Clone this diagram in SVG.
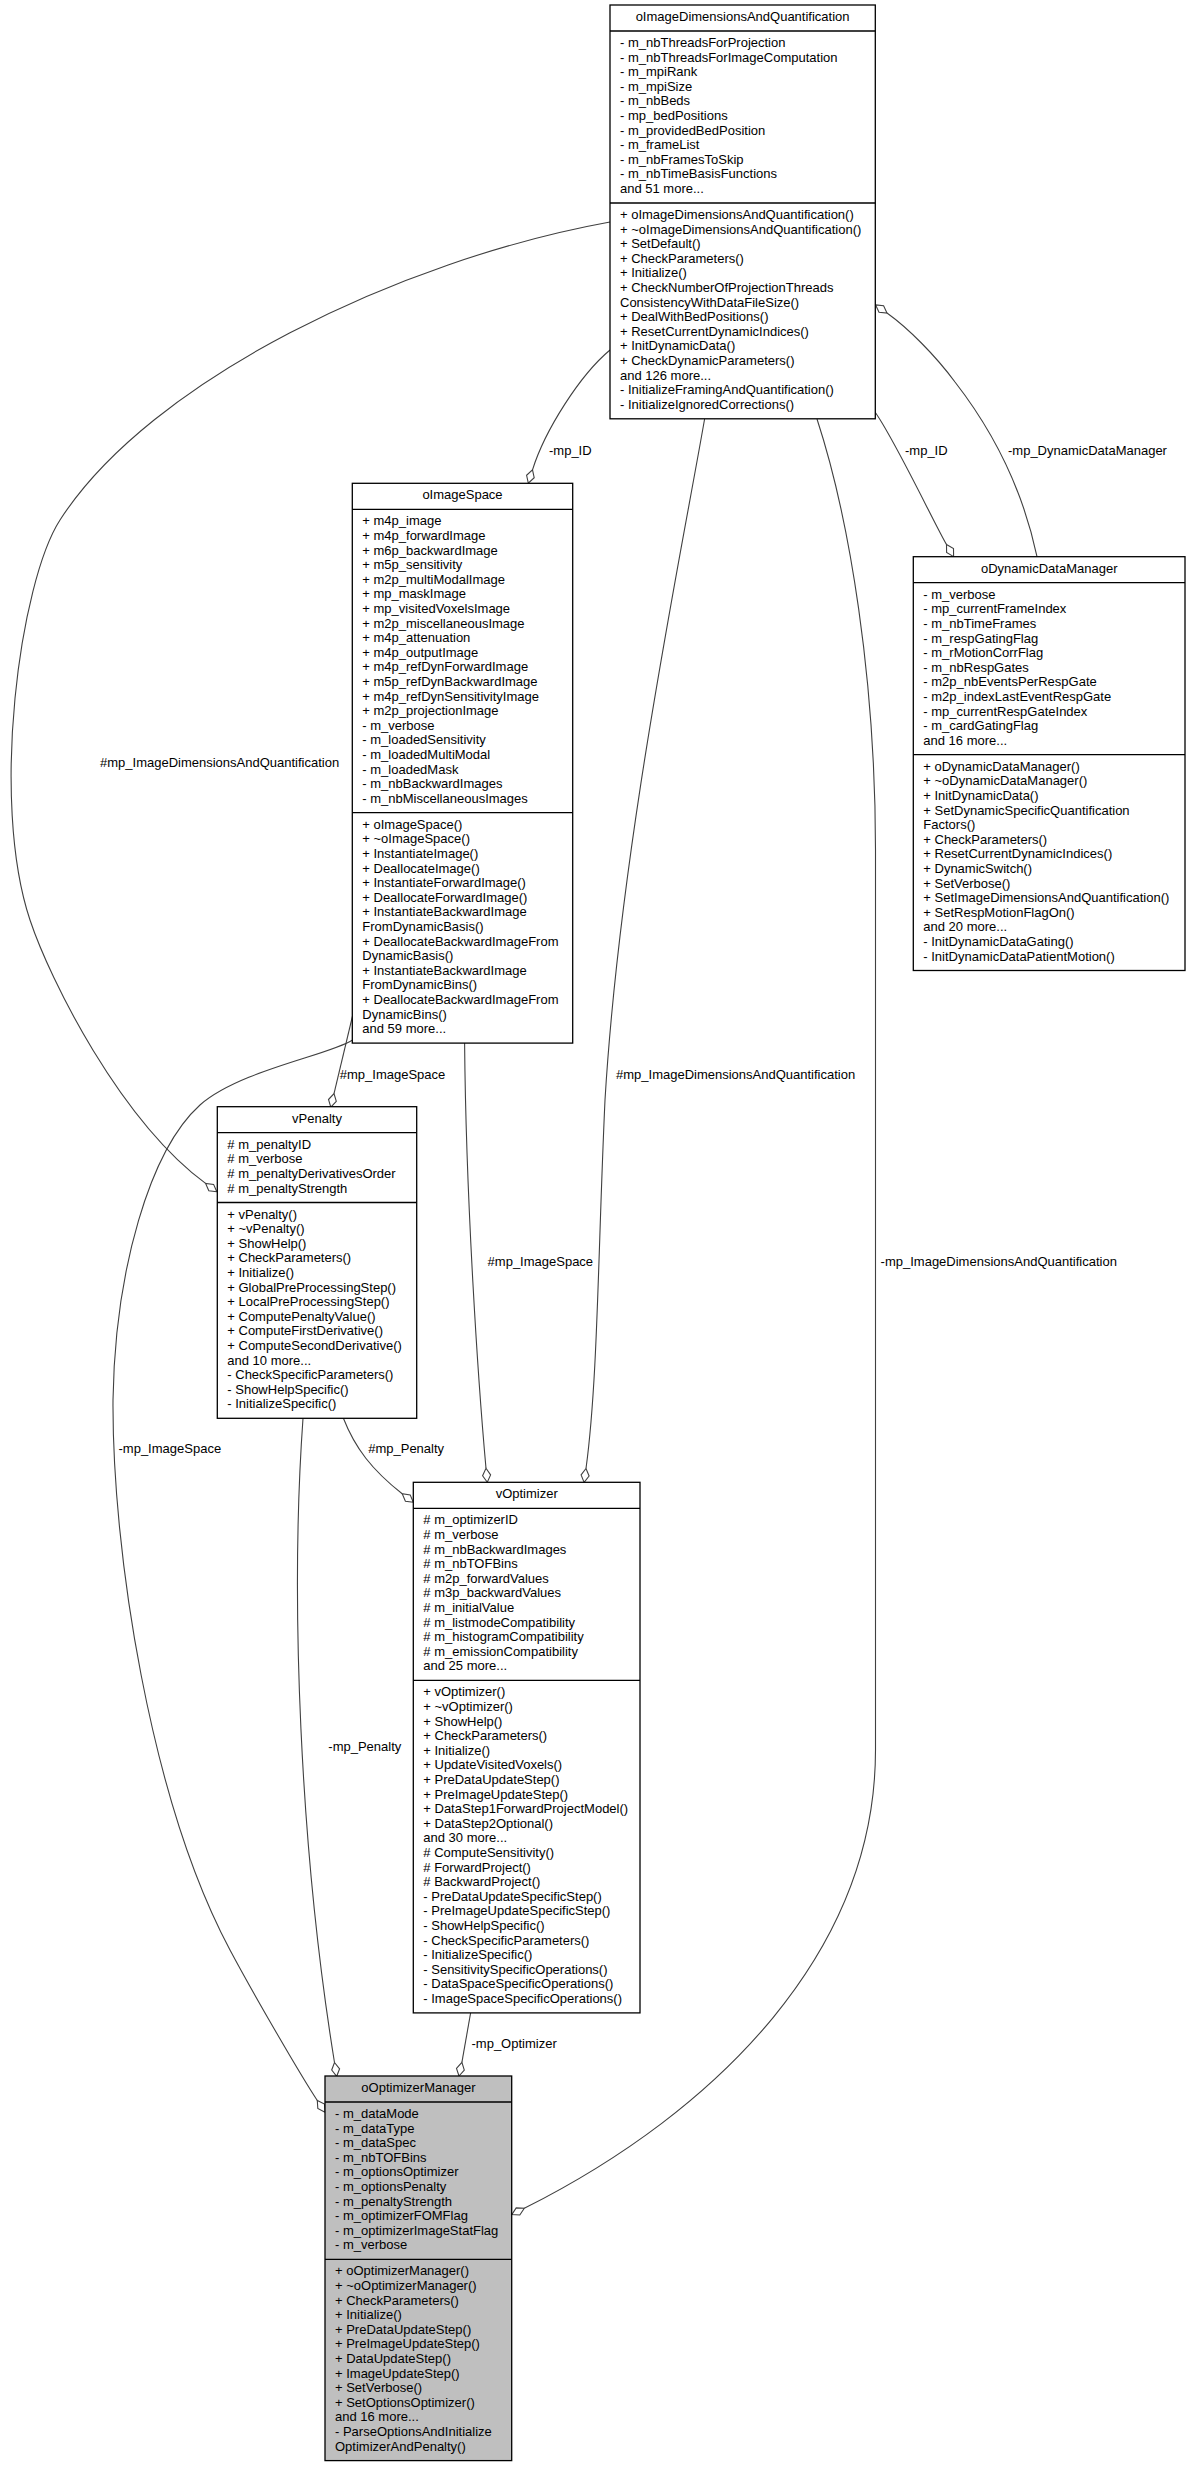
<svg xmlns="http://www.w3.org/2000/svg" width="1190" height="2467" viewBox="0 0 1190 2467">
<style>
text{font-family:"Liberation Sans",Arial,Helvetica,sans-serif;font-size:13px;fill:#000}
.t{text-anchor:middle}
.box{fill:#fff;stroke:#000;stroke-width:1.3}
.gray{fill:#bfbfbf}
.sep{stroke:#000;stroke-width:1.3}
.edge{fill:none;stroke:#404040;stroke-width:1.1}
.dia{fill:#fff;stroke:#404040;stroke-width:1.1}
</style>
<rect width="1190" height="2467" fill="#fff"/>
<g id="connectors">
<path class="edge" d="M610,222 C400,260 150,380 60,520 C20,582 -10,800 30,920 C50,980 120,1120 205.6,1183.4"/>
<polygon class="dia" points="216.8,1191.7 208.8,1190.8 205.6,1183.4 213.6,1184.4"/>
<text x="100" y="767">#mp_ImageDimensionsAndQuantification</text>
<path class="edge" d="M610,350 C580,375 545,430 532.5,469.8"/>
<polygon class="dia" points="528.3,483.2 526.6,475.3 532.5,469.8 534.2,477.7"/>
<text x="549" y="455">-mp_ID</text>
<path class="edge" d="M875,412 C895,440 936,527 946.5,544.5"/>
<polygon class="dia" points="953.6,556.6 946.6,552.5 946.5,544.5 953.5,548.5"/>
<text x="905" y="455">-mp_ID</text>
<path class="edge" d="M1037,556.7 C1025,500 1000,440 955,382 C935,355 908,328 887,313"/>
<polygon class="dia" points="875.6,304.9 883.6,305.7 887,313 879,312.2"/>
<text x="1008" y="455">-mp_DynamicDataManager</text>
<path class="edge" d="M704.6,419 C680,560 620,850 605,1100 C598,1250 598,1380 586,1468.5"/>
<polygon class="dia" points="584.1,1482.4 581.1,1474.9 586,1468.5 589.1,1476"/>
<text x="616" y="1078.5">#mp_ImageDimensionsAndQuantification</text>
<path class="edge" d="M817,419 C850,520 875.5,680 875.5,850 L875.5,1750 C875.5,1950 720,2110 524.3,2208.3"/>
<polygon class="dia" points="511.8,2214.6 516.2,2207.9 524.3,2208.3 519.8,2215"/>
<text x="880.6" y="1266">-mp_ImageDimensionsAndQuantification</text>
<path class="edge" d="M352.5,1016 L334,1093.6"/>
<polygon class="dia" points="330.8,1107.2 328.5,1099.5 334,1093.6 336.3,1101.3"/>
<text x="339.8" y="1078.5">#mp_ImageSpace</text>
<path class="edge" d="M464.6,1043.1 C466,1200 478,1380 486,1468.3"/>
<polygon class="dia" points="487.3,1482.2 482.6,1475.7 486,1468.3 490.6,1474.9"/>
<text x="487.6" y="1266">#mp_ImageSpace</text>
<path class="edge" d="M352.6,1040 C330,1055 240,1070 200,1105 C150,1150 115,1270 113,1400 C112,1550 150,1800 230,1950 C254,1995 300.8,2075.5 317.3,2100.5"/>
<polygon class="dia" points="325,2112.2 317.8,2108.5 317.3,2100.5 324.5,2104.1"/>
<text x="118.5" y="1452.5">-mp_ImageSpace</text>
<path class="edge" d="M343.4,1418.3 C355,1448 372,1470 402.2,1493.8"/>
<polygon class="dia" points="413.3,1502.3 405.4,1501.3 402.2,1493.8 410.2,1494.9"/>
<text x="368.2" y="1452.5">#mp_Penalty</text>
<path class="edge" d="M303,1418.3 C290,1600 300,1850 334.5,2062.5"/>
<polygon class="dia" points="336.7,2076.3 331.7,2070 334.5,2062.5 339.6,2068.8"/>
<text x="328.3" y="1750.5">-mp_Penalty</text>
<path class="edge" d="M470.6,2013 L461.9,2062.3"/>
<polygon class="dia" points="459,2076 456.5,2068.3 461.9,2062.3 464.3,2070"/>
<text x="471.5" y="2047.5">-mp_Optimizer</text>
</g>
<g id="node_oImageDimensionsAndQuantification">
<rect class="box" x="610" y="5" width="265.3" height="413.8"/>
<text class="t" x="742.6" y="21">oImageDimensionsAndQuantification</text>
<line class="sep" x1="610" y1="31" x2="875.3" y2="31"/>
<text x="620" y="47"><tspan x="620" dy="0">- m_nbThreadsForProjection</tspan><tspan x="620" dy="14.6">- m_nbThreadsForImageComputation</tspan><tspan x="620" dy="14.6">- m_mpiRank</tspan><tspan x="620" dy="14.6">- m_mpiSize</tspan><tspan x="620" dy="14.6">- m_nbBeds</tspan><tspan x="620" dy="14.6">- mp_bedPositions</tspan><tspan x="620" dy="14.6">- m_providedBedPosition</tspan><tspan x="620" dy="14.6">- m_frameList</tspan><tspan x="620" dy="14.6">- m_nbFramesToSkip</tspan><tspan x="620" dy="14.6">- m_nbTimeBasisFunctions</tspan><tspan x="620" dy="14.6">and 51 more...</tspan></text>
<line class="sep" x1="610" y1="203" x2="875.3" y2="203"/>
<text x="620" y="219"><tspan x="620" dy="0">+ oImageDimensionsAndQuantification()</tspan><tspan x="620" dy="14.6">+ ~oImageDimensionsAndQuantification()</tspan><tspan x="620" dy="14.6">+ SetDefault()</tspan><tspan x="620" dy="14.6">+ CheckParameters()</tspan><tspan x="620" dy="14.6">+ Initialize()</tspan><tspan x="620" dy="14.6">+ CheckNumberOfProjectionThreads</tspan><tspan x="620" dy="14.6">ConsistencyWithDataFileSize()</tspan><tspan x="620" dy="14.6">+ DealWithBedPositions()</tspan><tspan x="620" dy="14.6">+ ResetCurrentDynamicIndices()</tspan><tspan x="620" dy="14.6">+ InitDynamicData()</tspan><tspan x="620" dy="14.6">+ CheckDynamicParameters()</tspan><tspan x="620" dy="14.6">and 126 more...</tspan><tspan x="620" dy="14.6">- InitializeFramingAndQuantification()</tspan><tspan x="620" dy="14.6">- InitializeIgnoredCorrections()</tspan></text>
</g>
<g id="node_oImageSpace">
<rect class="box" x="352.3" y="483.3" width="220.4" height="559.8"/>
<text class="t" x="462.5" y="499.3">oImageSpace</text>
<line class="sep" x1="352.3" y1="509.3" x2="572.7" y2="509.3"/>
<text x="362.3" y="525.3"><tspan x="362.3" dy="0">+ m4p_image</tspan><tspan x="362.3" dy="14.6">+ m4p_forwardImage</tspan><tspan x="362.3" dy="14.6">+ m6p_backwardImage</tspan><tspan x="362.3" dy="14.6">+ m5p_sensitivity</tspan><tspan x="362.3" dy="14.6">+ m2p_multiModalImage</tspan><tspan x="362.3" dy="14.6">+ mp_maskImage</tspan><tspan x="362.3" dy="14.6">+ mp_visitedVoxelsImage</tspan><tspan x="362.3" dy="14.6">+ m2p_miscellaneousImage</tspan><tspan x="362.3" dy="14.6">+ m4p_attenuation</tspan><tspan x="362.3" dy="14.6">+ m4p_outputImage</tspan><tspan x="362.3" dy="14.6">+ m4p_refDynForwardImage</tspan><tspan x="362.3" dy="14.6">+ m5p_refDynBackwardImage</tspan><tspan x="362.3" dy="14.6">+ m4p_refDynSensitivityImage</tspan><tspan x="362.3" dy="14.6">+ m2p_projectionImage</tspan><tspan x="362.3" dy="14.6">- m_verbose</tspan><tspan x="362.3" dy="14.6">- m_loadedSensitivity</tspan><tspan x="362.3" dy="14.6">- m_loadedMultiModal</tspan><tspan x="362.3" dy="14.6">- m_loadedMask</tspan><tspan x="362.3" dy="14.6">- m_nbBackwardImages</tspan><tspan x="362.3" dy="14.6">- m_nbMiscellaneousImages</tspan></text>
<line class="sep" x1="352.3" y1="812.7" x2="572.7" y2="812.7"/>
<text x="362.3" y="828.7"><tspan x="362.3" dy="0">+ oImageSpace()</tspan><tspan x="362.3" dy="14.6">+ ~oImageSpace()</tspan><tspan x="362.3" dy="14.6">+ InstantiateImage()</tspan><tspan x="362.3" dy="14.6">+ DeallocateImage()</tspan><tspan x="362.3" dy="14.6">+ InstantiateForwardImage()</tspan><tspan x="362.3" dy="14.6">+ DeallocateForwardImage()</tspan><tspan x="362.3" dy="14.6">+ InstantiateBackwardImage</tspan><tspan x="362.3" dy="14.6">FromDynamicBasis()</tspan><tspan x="362.3" dy="14.6">+ DeallocateBackwardImageFrom</tspan><tspan x="362.3" dy="14.6">DynamicBasis()</tspan><tspan x="362.3" dy="14.6">+ InstantiateBackwardImage</tspan><tspan x="362.3" dy="14.6">FromDynamicBins()</tspan><tspan x="362.3" dy="14.6">+ DeallocateBackwardImageFrom</tspan><tspan x="362.3" dy="14.6">DynamicBins()</tspan><tspan x="362.3" dy="14.6">and 59 more...</tspan></text>
</g>
<g id="node_oDynamicDataManager">
<rect class="box" x="913.3" y="556.7" width="271.7" height="413.8"/>
<text class="t" x="1049.2" y="572.7">oDynamicDataManager</text>
<line class="sep" x1="913.3" y1="582.7" x2="1185" y2="582.7"/>
<text x="923.3" y="598.7"><tspan x="923.3" dy="0">- m_verbose</tspan><tspan x="923.3" dy="14.6">- mp_currentFrameIndex</tspan><tspan x="923.3" dy="14.6">- m_nbTimeFrames</tspan><tspan x="923.3" dy="14.6">- m_respGatingFlag</tspan><tspan x="923.3" dy="14.6">- m_rMotionCorrFlag</tspan><tspan x="923.3" dy="14.6">- m_nbRespGates</tspan><tspan x="923.3" dy="14.6">- m2p_nbEventsPerRespGate</tspan><tspan x="923.3" dy="14.6">- m2p_indexLastEventRespGate</tspan><tspan x="923.3" dy="14.6">- mp_currentRespGateIndex</tspan><tspan x="923.3" dy="14.6">- m_cardGatingFlag</tspan><tspan x="923.3" dy="14.6">and 16 more...</tspan></text>
<line class="sep" x1="913.3" y1="754.7" x2="1185" y2="754.7"/>
<text x="923.3" y="770.7"><tspan x="923.3" dy="0">+ oDynamicDataManager()</tspan><tspan x="923.3" dy="14.6">+ ~oDynamicDataManager()</tspan><tspan x="923.3" dy="14.6">+ InitDynamicData()</tspan><tspan x="923.3" dy="14.6">+ SetDynamicSpecificQuantification</tspan><tspan x="923.3" dy="14.6">Factors()</tspan><tspan x="923.3" dy="14.6">+ CheckParameters()</tspan><tspan x="923.3" dy="14.6">+ ResetCurrentDynamicIndices()</tspan><tspan x="923.3" dy="14.6">+ DynamicSwitch()</tspan><tspan x="923.3" dy="14.6">+ SetVerbose()</tspan><tspan x="923.3" dy="14.6">+ SetImageDimensionsAndQuantification()</tspan><tspan x="923.3" dy="14.6">+ SetRespMotionFlagOn()</tspan><tspan x="923.3" dy="14.6">and 20 more...</tspan><tspan x="923.3" dy="14.6">- InitDynamicDataGating()</tspan><tspan x="923.3" dy="14.6">- InitDynamicDataPatientMotion()</tspan></text>
</g>
<g id="node_vPenalty">
<rect class="box" x="217.3" y="1106.7" width="199.4" height="311.6"/>
<text class="t" x="317" y="1122.7">vPenalty</text>
<line class="sep" x1="217.3" y1="1132.7" x2="416.7" y2="1132.7"/>
<text x="227.3" y="1148.7"><tspan x="227.3" dy="0"># m_penaltyID</tspan><tspan x="227.3" dy="14.6"># m_verbose</tspan><tspan x="227.3" dy="14.6"># m_penaltyDerivativesOrder</tspan><tspan x="227.3" dy="14.6"># m_penaltyStrength</tspan></text>
<line class="sep" x1="217.3" y1="1202.5" x2="416.7" y2="1202.5"/>
<text x="227.3" y="1218.5"><tspan x="227.3" dy="0">+ vPenalty()</tspan><tspan x="227.3" dy="14.6">+ ~vPenalty()</tspan><tspan x="227.3" dy="14.6">+ ShowHelp()</tspan><tspan x="227.3" dy="14.6">+ CheckParameters()</tspan><tspan x="227.3" dy="14.6">+ Initialize()</tspan><tspan x="227.3" dy="14.6">+ GlobalPreProcessingStep()</tspan><tspan x="227.3" dy="14.6">+ LocalPreProcessingStep()</tspan><tspan x="227.3" dy="14.6">+ ComputePenaltyValue()</tspan><tspan x="227.3" dy="14.6">+ ComputeFirstDerivative()</tspan><tspan x="227.3" dy="14.6">+ ComputeSecondDerivative()</tspan><tspan x="227.3" dy="14.6">and 10 more...</tspan><tspan x="227.3" dy="14.6">- CheckSpecificParameters()</tspan><tspan x="227.3" dy="14.6">- ShowHelpSpecific()</tspan><tspan x="227.3" dy="14.6">- InitializeSpecific()</tspan></text>
</g>
<g id="node_vOptimizer">
<rect class="box" x="413.3" y="1482.3" width="226.7" height="530.6"/>
<text class="t" x="526.7" y="1498.3">vOptimizer</text>
<line class="sep" x1="413.3" y1="1508.3" x2="640" y2="1508.3"/>
<text x="423.3" y="1524.3"><tspan x="423.3" dy="0"># m_optimizerID</tspan><tspan x="423.3" dy="14.6"># m_verbose</tspan><tspan x="423.3" dy="14.6"># m_nbBackwardImages</tspan><tspan x="423.3" dy="14.6"># m_nbTOFBins</tspan><tspan x="423.3" dy="14.6"># m2p_forwardValues</tspan><tspan x="423.3" dy="14.6"># m3p_backwardValues</tspan><tspan x="423.3" dy="14.6"># m_initialValue</tspan><tspan x="423.3" dy="14.6"># m_listmodeCompatibility</tspan><tspan x="423.3" dy="14.6"># m_histogramCompatibility</tspan><tspan x="423.3" dy="14.6"># m_emissionCompatibility</tspan><tspan x="423.3" dy="14.6">and 25 more...</tspan></text>
<line class="sep" x1="413.3" y1="1680.3" x2="640" y2="1680.3"/>
<text x="423.3" y="1696.3"><tspan x="423.3" dy="0">+ vOptimizer()</tspan><tspan x="423.3" dy="14.6">+ ~vOptimizer()</tspan><tspan x="423.3" dy="14.6">+ ShowHelp()</tspan><tspan x="423.3" dy="14.6">+ CheckParameters()</tspan><tspan x="423.3" dy="14.6">+ Initialize()</tspan><tspan x="423.3" dy="14.6">+ UpdateVisitedVoxels()</tspan><tspan x="423.3" dy="14.6">+ PreDataUpdateStep()</tspan><tspan x="423.3" dy="14.6">+ PreImageUpdateStep()</tspan><tspan x="423.3" dy="14.6">+ DataStep1ForwardProjectModel()</tspan><tspan x="423.3" dy="14.6">+ DataStep2Optional()</tspan><tspan x="423.3" dy="14.6">and 30 more...</tspan><tspan x="423.3" dy="14.6"># ComputeSensitivity()</tspan><tspan x="423.3" dy="14.6"># ForwardProject()</tspan><tspan x="423.3" dy="14.6"># BackwardProject()</tspan><tspan x="423.3" dy="14.6">- PreDataUpdateSpecificStep()</tspan><tspan x="423.3" dy="14.6">- PreImageUpdateSpecificStep()</tspan><tspan x="423.3" dy="14.6">- ShowHelpSpecific()</tspan><tspan x="423.3" dy="14.6">- CheckSpecificParameters()</tspan><tspan x="423.3" dy="14.6">- InitializeSpecific()</tspan><tspan x="423.3" dy="14.6">- SensitivitySpecificOperations()</tspan><tspan x="423.3" dy="14.6">- DataSpaceSpecificOperations()</tspan><tspan x="423.3" dy="14.6">- ImageSpaceSpecificOperations()</tspan></text>
</g>
<g id="node_oOptimizerManager">
<rect class="box gray" x="325" y="2076" width="186.7" height="384.6"/>
<text class="t" x="418.4" y="2092">oOptimizerManager</text>
<line class="sep" x1="325" y1="2102" x2="511.7" y2="2102"/>
<text x="335" y="2118"><tspan x="335" dy="0">- m_dataMode</tspan><tspan x="335" dy="14.6">- m_dataType</tspan><tspan x="335" dy="14.6">- m_dataSpec</tspan><tspan x="335" dy="14.6">- m_nbTOFBins</tspan><tspan x="335" dy="14.6">- m_optionsOptimizer</tspan><tspan x="335" dy="14.6">- m_optionsPenalty</tspan><tspan x="335" dy="14.6">- m_penaltyStrength</tspan><tspan x="335" dy="14.6">- m_optimizerFOMFlag</tspan><tspan x="335" dy="14.6">- m_optimizerImageStatFlag</tspan><tspan x="335" dy="14.6">- m_verbose</tspan></text>
<line class="sep" x1="325" y1="2259.4" x2="511.7" y2="2259.4"/>
<text x="335" y="2275.4"><tspan x="335" dy="0">+ oOptimizerManager()</tspan><tspan x="335" dy="14.6">+ ~oOptimizerManager()</tspan><tspan x="335" dy="14.6">+ CheckParameters()</tspan><tspan x="335" dy="14.6">+ Initialize()</tspan><tspan x="335" dy="14.6">+ PreDataUpdateStep()</tspan><tspan x="335" dy="14.6">+ PreImageUpdateStep()</tspan><tspan x="335" dy="14.6">+ DataUpdateStep()</tspan><tspan x="335" dy="14.6">+ ImageUpdateStep()</tspan><tspan x="335" dy="14.6">+ SetVerbose()</tspan><tspan x="335" dy="14.6">+ SetOptionsOptimizer()</tspan><tspan x="335" dy="14.6">and 16 more...</tspan><tspan x="335" dy="14.6">- ParseOptionsAndInitialize</tspan><tspan x="335" dy="14.6">OptimizerAndPenalty()</tspan></text>
</g>
</svg>
